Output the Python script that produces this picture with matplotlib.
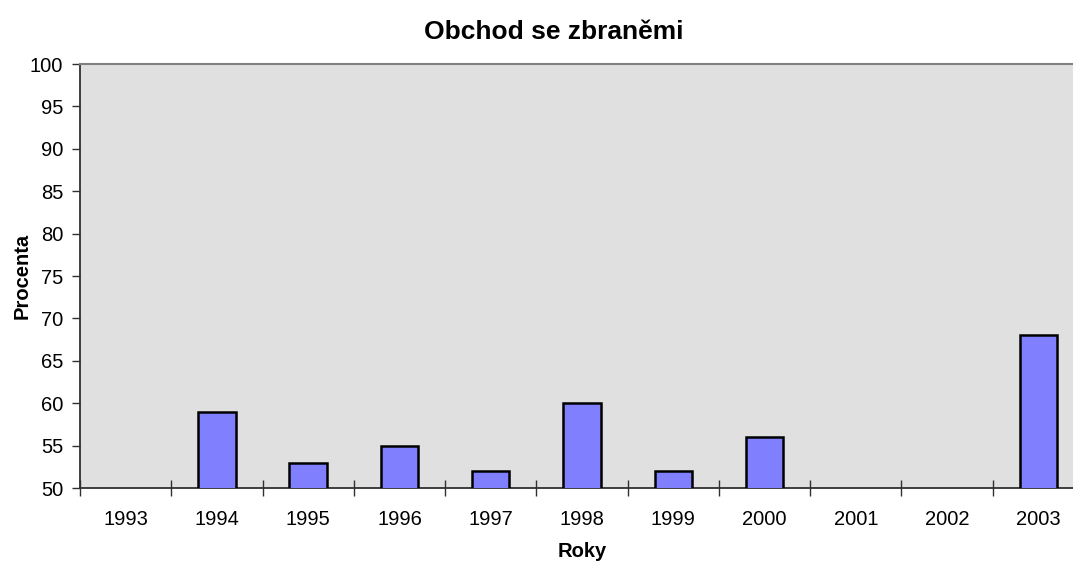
import numpy as np
import matplotlib.pyplot as plt

plt.rcParams['font.family'] = ['Liberation Sans', 'DejaVu Sans']

roky = ['1993', '1994', '1995', '1996', '1997', '1998', '1999', '2000', '2001', '2002', '2003']
procenta = [np.nan, 59, 53, 55, 52, 60, 52, 56, np.nan, np.nan, 68]

fig = plt.figure(figsize=(10.73, 5.63), dpi=100)
# plot area runs a little past the right edge of the figure
ax = fig.add_axes([80 / 1073, 75 / 563, 1004 / 1073, 424 / 563])
ax.set_facecolor('#E0E0E0')

x = np.arange(len(roky))
ax.bar(x, procenta, width=0.41, bottom=0, color='#8080FF', edgecolor='black', linewidth=1.8, zorder=3)

ax.set_xlim(-0.5, len(roky) - 0.5)
ax.set_ylim(50, 100)
ax.set_yticks(range(50, 101, 5))

# category labels centred, ticks between categories
ax.set_xticks(x)
ax.set_xticklabels(roky, fontsize=14.5)
ax.set_xticks(np.arange(-0.5, len(roky)), minor=True)
ax.tick_params(axis='x', which='major', length=0, pad=16)
ax.tick_params(axis='x', which='minor', direction='inout', length=12, width=1, color='#303030')
ax.tick_params(axis='y', direction='out', length=6, width=1, color='#303030', labelsize=14.5, pad=6)

for side in ['left', 'bottom']:
    ax.spines[side].set_color('#303030')
    ax.spines[side].set_linewidth(1.3)
ax.spines['top'].set_color('#808080')
ax.spines['top'].set_linewidth(1.5)
ax.spines['right'].set_visible(False)

ax.set_title('Obchod se zbraněmi', fontsize=19, fontweight='bold', pad=18, x=(554 - 80) / 1004)
ax.set_xlabel('Roky', fontsize=14.5, fontweight='bold', labelpad=9)
ax.set_ylabel('Procenta', fontsize=14.5, fontweight='bold', labelpad=-1)

fig.savefig('out.png', dpi=100)
